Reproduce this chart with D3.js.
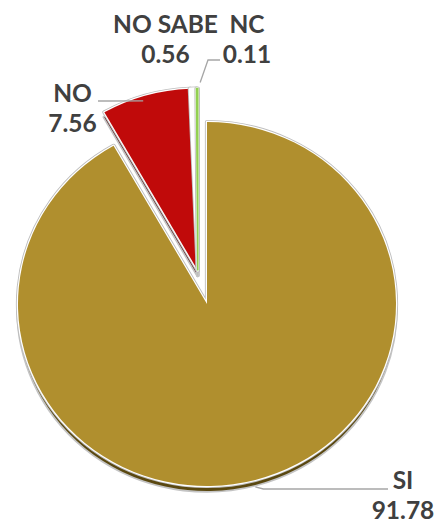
<!DOCTYPE html>
<html><head><meta charset="utf-8">
<script src="https://cdn.jsdelivr.net/npm/d3@7"></script>
<style>body{margin:0;background:#fff}</style></head>
<body>
<script>
// ---- data ----
const categories = ["SI", "NO", "NO SABE", "NC"];
const values = [91.78, 7.56, 0.56, 0.11];
const valueLabels = ["91.78", "7.56", "0.56", "0.11"];
const colors = ["#B08F2E", "#C00A0A", "#FFFFFF", "#92D050"];
const depthColors = ["#5A4810", "#4A0606", "#C8C8C8", "#4F7A22"];
const exploded = [false, true, true, true];

// ---- layout ----
const W = 439, H = 524;
const cx = 207, cy = 304, R = 189, RY = 182, k = RY / R;
const depth = 5, explodeDist = 36;

const svg = d3.select("body").append("svg").attr("width", W).attr("height", H);
const arcs = d3.pie().sort(null).value(d => d)(values);
const arc = d3.arc().innerRadius(0).outerRadius(R);

const ex = arcs.filter((a, i) => exploded[i]);
const gMid = (d3.min(ex, a => a.startAngle) + d3.max(ex, a => a.endAngle)) / 2;
const off = i => exploded[i] ? [explodeDist * Math.sin(gMid), -explodeDist * Math.cos(gMid)] : [0, 0];

function sliceG(layer, dy) {
  return layer.selectAll("g").data(arcs).join("g")
    .attr("transform", (a, i) => `translate(${cx + off(i)[0]},${cy + off(i)[1] * k + dy}) scale(1,${k})`);
}
// depth
const dl = svg.append("g");
const dg = sliceG(dl, depth);
dg.append("path").attr("d", arc).attr("fill", "none").attr("stroke", "#C4C4C4").attr("stroke-width", 3.5).attr("stroke-linejoin", "round");
dg.append("path").attr("d", arc).attr("fill", (a, i) => depthColors[i]);
// top
const tl = svg.append("g");
const tg = sliceG(tl, 0);
tg.append("path").attr("d", arc).attr("fill", "none").attr("stroke", "#BDBDBD").attr("stroke-width", 4.2).attr("stroke-linejoin", "round");
tg.append("path").attr("d", arc).attr("fill", "none").attr("stroke", "#FFFFFF").attr("stroke-width", 2.4).attr("stroke-linejoin", "round");
tg.append("path").attr("d", arc).attr("fill", (a, i) => colors[i])
  .attr("stroke", (a, i) => values[i] < 1 ? colors[i] : "none").attr("stroke-width", 1.6);

// outer mid-point of each slice in screen coords
function outer(i, rf) {
  const a = arcs[i], m = (a.startAngle + a.endAngle) / 2, o = off(i);
  return [cx + o[0] + R * rf * Math.sin(m), cy + (o[1] - R * rf * Math.cos(m)) * k];
}

// labels (name baseline, value baseline)
const lineGap = 30;
const labelPos = [[403, 489], [72.5, 102], [165.5, 33], [247, 33]];
const labels = svg.append("g").attr("font-family", "Lato, 'Open Sans', sans-serif")
  .attr("font-weight", 700).attr("font-size", 24.5).attr("fill", "#404040").attr("text-anchor", "middle");
categories.forEach((c, i) => {
  const [x, y] = labelPos[i];
  labels.append("text").attr("x", x).attr("y", y).text(c);
  labels.append("text").attr("x", x).attr("y", y + lineGap).text(valueLabels[i]);
});

// leader lines
const line = d3.line();
const leaders = [];
{ const p = outer(0, 1.0); const [lx, ly] = labelPos[0];
  leaders.push([[p[0], p[1] + depth + 2], [p[0] + 8, ly], [lx - 15, ly]]); }
{ const p = outer(1, 0.97); const [lx, ly] = labelPos[1];
  leaders.push([[p[0] - 4, p[1]], [lx + 37.5, ly - 1], [lx + 25.5, ly - 1]]); }
{ const p = outer(3, 1.0); const [lx, ly] = labelPos[3];
  leaders.push([[p[0] + 3, p[1] - 6], [lx - 39, ly + lineGap - 3], [lx - 27, ly + lineGap - 3]]); }
svg.append("g").selectAll("path").data(leaders).join("path")
  .attr("d", line).attr("fill", "none").attr("stroke", "#A6A6A6").attr("stroke-width", 1.3);
</script>
</body></html>
